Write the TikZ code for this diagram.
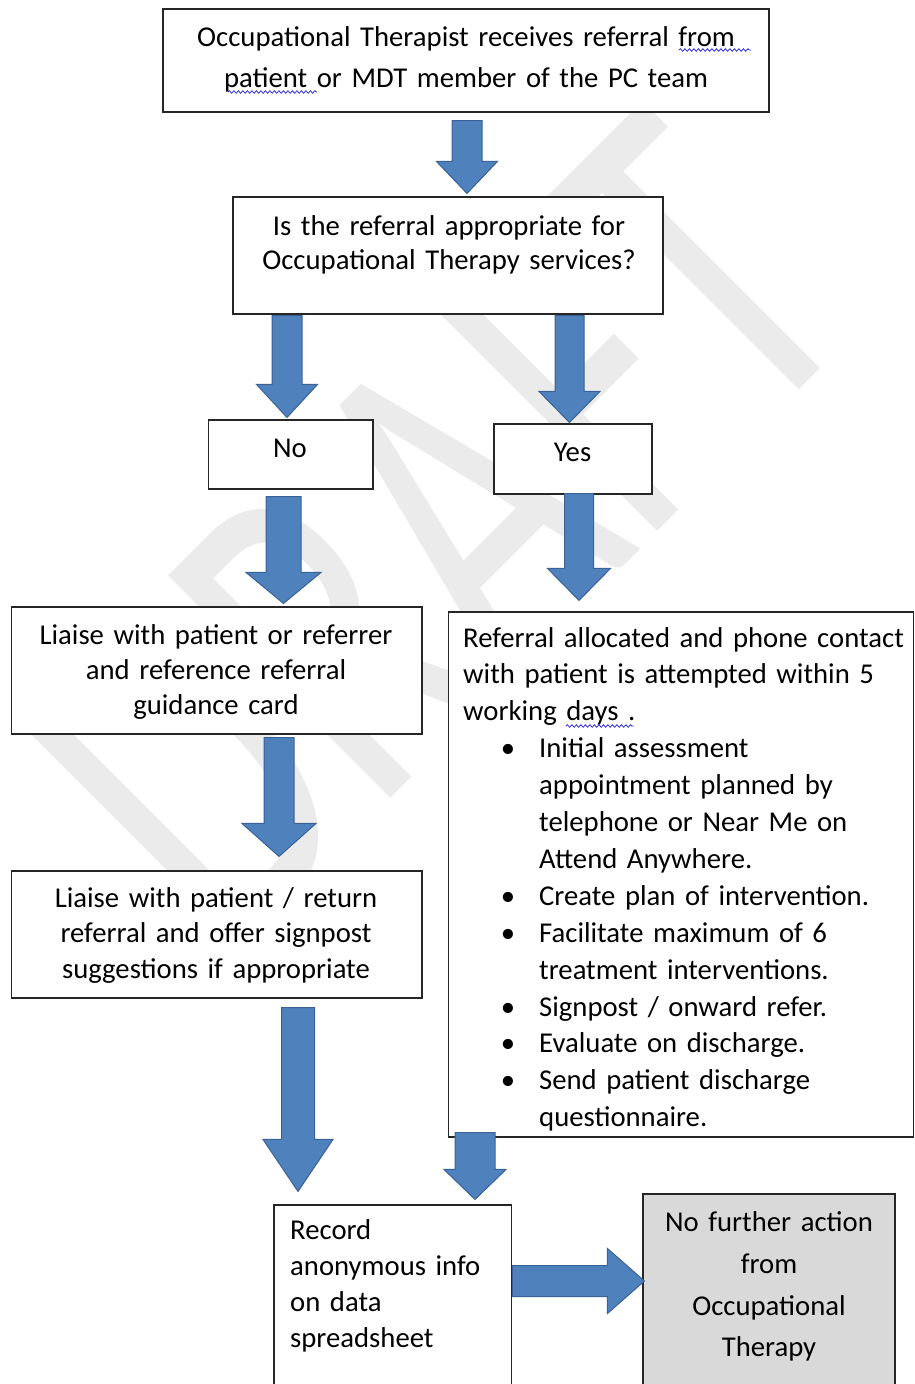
\documentclass[tikz,border=0pt]{standalone}
\usepackage{fontspec}
\setmainfont{Carlito}
\usetikzlibrary{positioning, calc, decorations.pathmorphing}
\definecolor{blkfill}{HTML}{4F81BD}
\definecolor{blkedge}{HTML}{3B6296}
\definecolor{nfagrey}{HTML}{D9D9D9}
\definecolor{wmgrey}{HTML}{EBEBEB}
\definecolor{spellblue}{HTML}{3434DC}
\newcommand{\fs}[1]{\fontsize{28.7}{#1}\selectfont}
\newcommand{\bitem}[1]{\par\hangindent=76pt\hangafter=0\noindent\llap{\textbullet\hspace{24pt}}#1}
\tikzset{
    shaftw/.store in=\shaftw, headw/.store in=\headw, headl/.store in=\headl,
    shaftw=15pt, headw=30.5pt, headl=32pt,
}

\begin{document}
\begin{tikzpicture}[x=1pt, y=-1pt,
    box/.style={draw=black!85, fill=white, line width=1.1pt, inner sep=0pt},
    txt/.style={inner sep=0pt, anchor=base, align=center, font=\fs{36}},
    wm/.style={text=wmgrey, inner sep=0pt, font=\fontsize{490}{490}\selectfont},
    blk/.style={fill=blkfill, draw=blkedge, line width=1pt},
    blkdown/.style={to path={let \p1=(\tikztostart), \p2=(\tikztotarget) in
        (\x1-\shaftw,\y1) -- (\x1+\shaftw,\y1) -- (\x1+\shaftw,\y2+\headl)
        -- (\x1+\headw,\y2+\headl) -- (\x1,\y2) -- (\x1-\headw,\y2+\headl)
        -- (\x1-\shaftw,\y2+\headl) -- cycle}},
    blkright/.style={to path={let \p1=(\tikztostart), \p2=(\tikztotarget) in
        (\x1,\y1-\shaftw) -- (\x1,\y1+\shaftw) -- (\x2-\headl,\y1+\shaftw)
        -- (\x2-\headl,\y1+\headw) -- (\x2,\y1) -- (\x2-\headl,\y1-\headw)
        -- (\x2-\headl,\y1-\shaftw) -- cycle}},
    spell/.style={draw=spellblue, line width=0.8pt, decorate,
        decoration={snake, amplitude=1.3pt, segment length=4.5pt}},
]
    \useasboundingbox (0,0) rectangle (915,1384);

    % Watermark
    \node[wm, rotate=45, xscale=0.69] (draft) at (436,531) {DRAFT};

    % Boxes
    \node[box, minimum width=606pt, minimum height=103pt] (recv) at (466,60.5) {};
    \node[box, minimum width=430pt, minimum height=117pt] (q) at (448,255.5) {};
    \node[box, minimum width=164.5pt, minimum height=69pt] (no) at (290.75,454.5) {};
    \node[box, minimum width=158pt, minimum height=70pt] (yes) at (573,459) {};
    \node[box, minimum width=410.5pt, minimum height=127pt] (liaise) at (216.75,670.5) {};
    \node[box, minimum width=465pt, minimum height=525pt] (alloc) at (681,874.5) {};
    \node[box, minimum width=410.5pt, minimum height=127pt] (return) at (216.75,934.5) {};
    \node[box, minimum width=237.5pt, minimum height=215pt] (record) at (392.75,1312.5) {};
    \node[box, fill=nfagrey, minimum width=252pt, minimum height=226pt] (nfa) at (769,1307) {};

    % Texts
    \node[txt, text width=600pt, font=\fs{40.8}] (recvtxt) at (466,46.5)
        {Occupational Therapist receives referral from\\ patient or MDT member of the PC team};
    \node[txt, text width=420pt, font=\fs{33.5}] (qtxt) at (449,235.5)
        {Is the referral appropriate for\\ Occupational Therapy services?};
    \node[txt] (notxt) at (290,457) {No};
    \node[txt] (yestxt) at (572.5,461) {Yes};
    \node[txt, text width=400pt, font=\fs{35}] (liaisetxt) at (216,644.5)
        {Liaise with patient or referrer\\ and reference referral\\ guidance card};
    \node[txt, text width=400pt, font=\fs{35.5}] (returntxt) at (216,907)
        {Liaise with patient / return\\ referral and offer signpost\\ suggestions if appropriate};
    \node[txt, anchor=base west, align=left, text width=448pt, font=\fs{36.9}] (alloctxt) at (463,647)
        {Referral allocated and phone contact\\ with patient is attempted within 5\\ working days .
        \bitem{Initial assessment\newline appointment planned by\newline telephone or Near Me on\newline Attend Anywhere.}
        \bitem{Create plan of intervention.}
        \bitem{Facilitate maximum of 6\newline treatment interventions.}
        \bitem{Signpost / onward refer.}
        \bitem{Evaluate on discharge.}
        \bitem{Send patient discharge\newline questionnaire.}\par};
    \node[txt, anchor=base west, align=left, text width=215pt] (recordtxt) at (290,1239)
        {Record\\ anonymous info\\ on data\\ spreadsheet};
    \node[txt, text width=240pt, font=\fs{41.7}] (nfatxt) at (769,1231.7)
        {No further action\\ from\\ Occupational\\ Therapy};

    % Spelling marks
    \draw[spell] (679,50) -- (751,50);
    \draw[spell] (228,92) -- (317,92);
    \draw[spell] (566,726) -- (634,726);

    % Arrows
    \draw[blk, blkdown, shaftw=15pt, headw=30.5pt, headl=32pt] ($(recv.south)+(1,8)$) to ($(q.north)+(0,-3)$);
    \draw[blk, blkdown, shaftw=15pt, headw=30.5pt, headl=33pt] ($(q.south -| no.north)+(-3.75,1)$) to ($(no.north)+(0,-2)$);
    \draw[blk, blkdown, shaftw=14.5pt, headw=30.5pt, headl=31pt] ($(q.south -| yes.north)+(-3.5,1)$) to ($(yes.north)+(0,-1)$);
    \draw[blk, blkdown, shaftw=17.5pt, headw=37.5pt, headl=31pt] ($(no.south)+(-7.25,7)$) to ($(liaise.north)+(0,-3)$);
    \draw[blk, blkdown, shaftw=14.5pt, headw=31.5pt, headl=32pt] ($(yes.south)+(6,-1)$) to ($(alloc.north)+(0,-11)$);
    \draw[blk, blkdown, shaftw=15pt, headw=37pt, headl=33pt] ($(liaise.south)+(62.25,3)$) to ($(return.north)+(0,-14)$);
    \draw[blk, blkdown, shaftw=16.5pt, headw=35pt, headl=52pt] ($(return.south)+(81.25,9)$) to ($(record.north)+(0,-13)$);
    \draw[blk, blkdown, shaftw=20pt, headw=31pt, headl=30pt] ($(alloc.south)+(-206,-5)$) to ($(record.north)+(0,-5)$);
    \draw[blk, blkright, shaftw=15.5pt, headw=32.5pt, headl=37pt] ($(record.east)+(0.5,-31.5)$) to ($(nfa.west)+(2,-26)$);
\end{tikzpicture}
\end{document}
